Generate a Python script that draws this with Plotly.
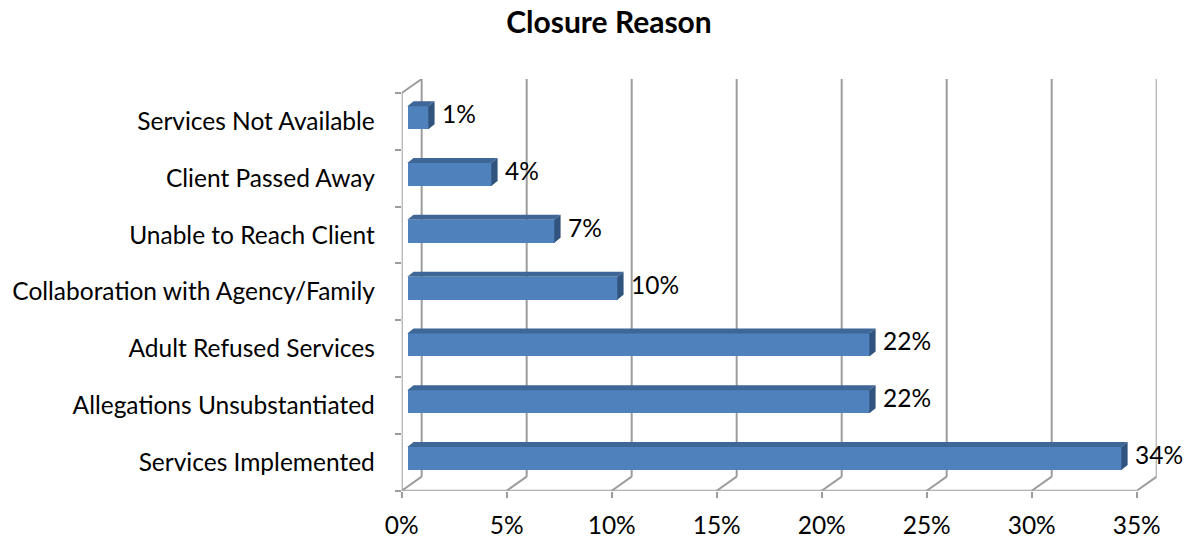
import plotly.graph_objects as go

# ---- data ----
categories = ["Services Implemented", "Allegations Unsubstantiated", "Adult Refused Services",
              "Collaboration with Agency/Family", "Unable to Reach Client",
              "Client Passed Away", "Services Not Available"]
values = [34, 22, 22, 10, 7, 4, 1]
x_ticks = [0, 5, 10, 15, 20, 25, 30, 35]
x_tick_labels = ["0%", "5%", "10%", "15%", "20%", "25%", "30%", "35%"]
title_text = "Closure Reason"

# ---- 3D geometry (in axis units) ----
X_MAX = 35
DEPTH_X, DEPTH_Y = 0.951, 0.2466      # back wall offset
BAR_DX, BAR_DY = 0.266, 0.065         # bar front face offset from front plane
BAR_W = 0.405
FACE_DX, FACE_DY = 0.30, 0.088        # bar depth
GRID = "#9c9c9c"
GW = 2
FRONT = "#4f81bd"
TOP = "#3e6697"
SIDE = "#31547f"
FONT = "Lato"
FS = 24.5

n = len(categories)
pos = list(range(n))

fig = go.Figure()

# front faces
fig.add_trace(go.Bar(
    x=values, y=[p + BAR_DY for p in pos], base=BAR_DX, orientation="h", width=BAR_W,
    marker=dict(color=FRONT, line=dict(width=0)), hoverinfo="skip", showlegend=False))

# top and side faces
for p, v in zip(pos, values):
    yc = p + BAR_DY
    x0, x1 = BAR_DX, BAR_DX + v
    yt, yb = yc + BAR_W / 2, yc - BAR_W / 2
    fig.add_trace(go.Scatter(
        x=[x0, x1, x1 + FACE_DX, x0 + FACE_DX, x0],
        y=[yt, yt, yt + FACE_DY, yt + FACE_DY, yt],
        fill="toself", fillcolor=TOP, mode="lines", line=dict(width=0),
        hoverinfo="skip", showlegend=False))
    fig.add_trace(go.Scatter(
        x=[x1, x1 + FACE_DX, x1 + FACE_DX, x1, x1],
        y=[yb, yb + FACE_DY, yt + FACE_DY, yt, yb],
        fill="toself", fillcolor=SIDE, mode="lines", line=dict(width=0),
        hoverinfo="skip", showlegend=False))

# walls / grid
shapes = []
ybot, ytop = -0.5, n - 0.5
for t in x_ticks:
    shapes.append(dict(type="line", x0=t + DEPTH_X, x1=t + DEPTH_X,
                       y0=ybot + DEPTH_Y, y1=ytop + DEPTH_Y,
                       line=dict(color=GRID, width=GW), layer="below"))
    shapes.append(dict(type="line", x0=t, x1=t + DEPTH_X, y0=ybot, y1=ybot + DEPTH_Y,
                       line=dict(color=GRID, width=GW), layer="below"))
shapes.append(dict(type="line", x0=0, x1=X_MAX, y0=ybot, y1=ybot,
                   line=dict(color=GRID, width=GW), layer="below"))
shapes.append(dict(type="line", x0=0, x1=0, y0=ybot, y1=ytop,
                   line=dict(color=GRID, width=GW), layer="below"))
shapes.append(dict(type="line", x0=0, x1=DEPTH_X, y0=ytop, y1=ytop + DEPTH_Y,
                   line=dict(color=GRID, width=GW), layer="below"))

annotations = []
for p, v in zip(pos, values):
    annotations.append(dict(x=BAR_DX + v, y=p + BAR_DY, text=f"{v}%", showarrow=False,
                            xanchor="left", yanchor="middle", xshift=12, yshift=4,
                            font=dict(family=FONT, size=FS, color="#000000")))

fig.update_layout(
    width=1190, height=541,
    margin=dict(l=0, r=0, t=0, b=0, autoexpand=False),
    paper_bgcolor="white", plot_bgcolor="rgba(0,0,0,0)",
    title=dict(text=f"<b>{title_text}</b>", x=609 / 1190, xanchor="center",
               y=1 - 22 / 541, yanchor="middle",
               font=dict(family=FONT, size=30, color="#000000")),
    xaxis=dict(domain=[401.7 / 1190, 1156.7 / 1190], range=[0, X_MAX + DEPTH_X],
               automargin=False,
               tickvals=x_ticks, ticktext=x_tick_labels, ticks="outside", ticklen=6,
               tickcolor=GRID, tickwidth=GW, showgrid=False, zeroline=False, showline=False,
               tickfont=dict(family=FONT, size=FS, color="#000000"), ticklabelstandoff=7),
    yaxis=dict(domain=[1 - 490.7 / 541, 1 - 79 / 541], range=[ybot, ytop + DEPTH_Y],
               automargin=False,
               tickvals=pos, ticktext=categories, ticks="outside", ticklen=6,
               tickcolor="rgba(0,0,0,0)", showgrid=False, zeroline=False, showline=False,
               tickfont=dict(family=FONT, size=FS, color="#000000"), ticklabelstandoff=15,
               minor=dict(tickvals=[i - 0.5 for i in range(n + 1)], ticks="outside",
                          ticklen=6, tickcolor=GRID, tickwidth=GW, showgrid=False)),
    shapes=shapes, annotations=annotations, bargap=0, showlegend=False,
)

fig.write_html("out.html")
